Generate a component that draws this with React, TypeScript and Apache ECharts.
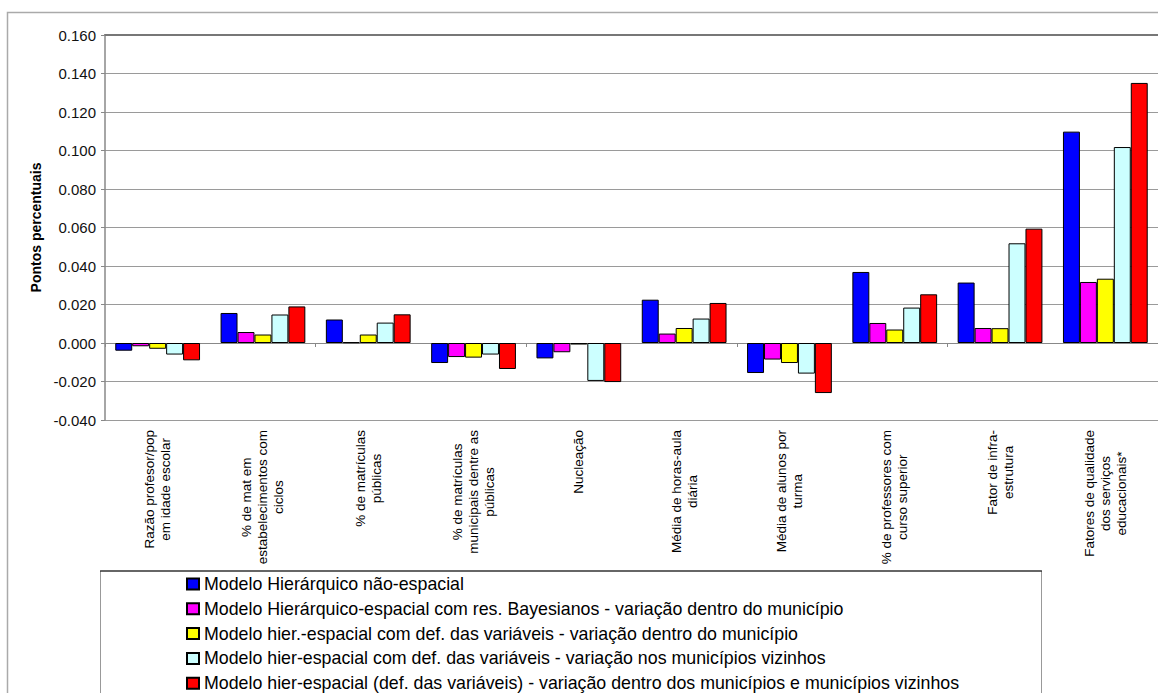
import React, { useEffect, useRef } from "react";
import * as echarts from "echarts";

const categories = [
  "Razão profesor/pop\nem idade escolar",
  "% de mat em\nestabelecimentos com\nciclos",
  "% de matrículas\npúblicas",
  "% de matrículas\nmunicipais dentre as\npúblicas",
  "Nucleação",
  "Média de horas-aula\ndiária",
  "Média de alunos por\nturma",
  "% de professores com\ncurso superior",
  "Fator de infra-\nestrutura",
  "Fatores de qualidade\ndos serviços\neducacionais*",
];

const seriesNames = [
  "Modelo Hierárquico não-espacial",
  "Modelo Hierárquico-espacial com res. Bayesianos - variação dentro do município",
  "Modelo hier.-espacial com def. das variáveis - variação dentro do município",
  "Modelo hier-espacial com def. das variáveis - variação nos municípios vizinhos",
  "Modelo hier-espacial (def. das variáveis) - variação dentro dos municípios e municípios vizinhos",
];

const naoEspacial = [-0.004, 0.0156, 0.0122, -0.0104, -0.008, 0.0225, -0.0156, 0.0369, 0.0314, 0.1098];
const bayesianos = [-0.0017, 0.0057, 0.0004, -0.0073, -0.0048, 0.0049, -0.0086, 0.0104, 0.0078, 0.0317];
const dentroMunicipio = [-0.003, 0.0044, 0.0044, -0.0076, -0.0008, 0.0078, -0.0104, 0.007, 0.0077, 0.0334];
const vizinhos = [-0.006, 0.0148, 0.0106, -0.006, -0.0197, 0.0127, -0.0159, 0.0184, 0.0518, 0.1018];
const dentroEVizinhos = [-0.009, 0.019, 0.0149, -0.0135, -0.0203, 0.0208, -0.026, 0.0253, 0.0594, 0.1351];

const seriesValues = [naoEspacial, bayesianos, dentroMunicipio, vizinhos, dentroEVizinhos];
const seriesColors = ["#0000FF", "#FF00FF", "#FFFF00", "#CCFFFF", "#FF0000"];

const yMin = -0.04;
const yMax = 0.16;
const yStep = 0.02;

const FONT = "'Liberation Sans', Arial, sans-serif";

export default function App() {
  const ref = useRef<HTMLDivElement>(null);

  useEffect(() => {
    if (!ref.current) return;
    const chart = echarts.init(ref.current, undefined, { renderer: "svg" });
    const labelFormatter = (v: string) =>
      v
        .split("\n")
        .map((l) => `{c|${l}}`)
        .join("\n");

    chart.setOption({
      animation: false,
      backgroundColor: "#ffffff",
      textStyle: { fontFamily: FONT },
      grid: { left: 105, top: 35, width: 1056, height: 385 },
      legend: {
        orient: "vertical",
        left: 186,
        top: 574,
        height: 200,
        padding: 0,
        itemWidth: 12,
        itemHeight: 11,
        itemGap: 4.8,
        icon: "rect",
        textStyle: { fontSize: 17.8, lineHeight: 20, color: "#000", fontFamily: FONT },
        data: seriesNames,
      },
      xAxis: [
        {
          type: "category",
          data: categories,
          position: "bottom",
          axisLine: { show: false, onZero: false },
          axisTick: { show: false },
          splitLine: { show: false },
          axisLabel: {
            interval: 0,
            rotate: 90,
            margin: 10,
            formatter: labelFormatter,
            rich: {
              c: {
                align: "center",
                fontSize: 13.5,
                lineHeight: 16,
                color: "#000",
                fontFamily: FONT,
              },
            },
          },
        },
        {
          type: "category",
          data: categories,
          position: "bottom",
          axisLine: { show: true, onZero: true, lineStyle: { color: "#888", width: 1 } },
          axisTick: { show: true, length: 4, lineStyle: { color: "#888" } },
          axisLabel: { show: false },
          splitLine: { show: false },
        },
        {
          type: "category",
          data: categories,
          position: "top",
          axisLine: { show: true, onZero: false, lineStyle: { color: "#777", width: 2 } },
          axisTick: { show: false },
          axisLabel: { show: false },
          splitLine: { show: false },
        },
      ],
      yAxis: {
        type: "value",
        min: yMin,
        max: yMax,
        interval: yStep,
        name: "Pontos percentuais",
        nameLocation: "middle",
        nameGap: 62,
        nameTextStyle: { fontWeight: "bold", fontSize: 14, color: "#000", fontFamily: FONT },
        axisLine: { show: true, lineStyle: { color: "#888", width: 1.5 } },
        axisTick: { show: true, length: 4, lineStyle: { color: "#888" } },
        axisLabel: {
          formatter: (v: number) => v.toFixed(3),
          fontSize: 15,
          color: "#111",
          margin: 9,
          fontFamily: FONT,
        },
        splitLine: { show: true, lineStyle: { color: "#9a9a9a", width: 1 } },
      },
      graphic: [
        {
          type: "rect",
          shape: { x: 7.5, y: 12.5, width: 1400, height: 900 },
          style: { fill: "none", stroke: "#aaaaaa", lineWidth: 1.5 },
          silent: true,
          z: -10,
        },
        {
          type: "rect",
          shape: { x: 100.5, y: 571, width: 941, height: 300 },
          style: { fill: "none", stroke: "#999999", lineWidth: 1 },
          silent: true,
          z: -5,
        },
        {
          type: "line",
          shape: { x1: 100, y1: 571, x2: 1042, y2: 571 },
          style: { stroke: "#000", lineWidth: 1.2 },
          silent: true,
          z: -4,
        },
      ],
      series: seriesNames.map((name, i) => ({
        name,
        type: "bar",
        xAxisIndex: 0,
        data: seriesValues[i],
        barGap: "0%",
        barCategoryGap: "19.5%",
        itemStyle: { color: seriesColors[i], borderColor: "#000", borderWidth: 1 },
        emphasis: { disabled: true },
      })),
    });

    return () => {
      chart.dispose();
    };
  }, []);

  return (
    <div
      ref={ref}
      style={{ position: "fixed", left: 0, top: 0, width: 1158, height: 693, background: "#fff" }}
    />
  );
}
